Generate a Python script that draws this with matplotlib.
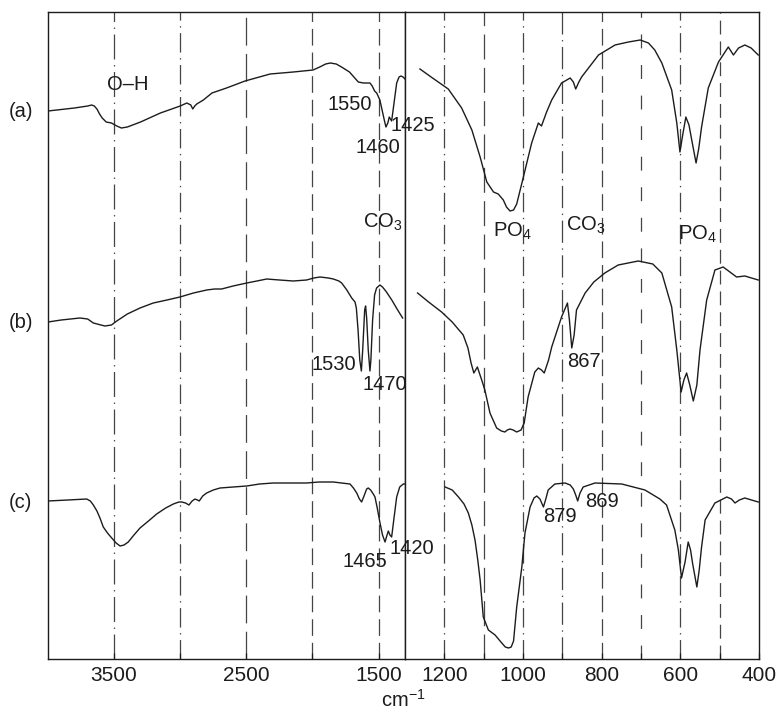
import matplotlib
matplotlib.use("Agg")
import matplotlib.pyplot as plt
from matplotlib.ticker import FixedLocator, NullFormatter

plt.rcParams['font.family'] = ['Liberation Sans', 'DejaVu Sans']
plt.rcParams['mathtext.default'] = 'regular'
plt.rcParams['lines.scale_dashes'] = False

# ---------------- data (wavenumber, cm-1 ; absorbance-like a.u. with offset, axis inverted) -------------
# spectrum (a)
a_left_wn = [4000, 3800, 3700, 3670, 3650, 3630, 3610, 3590, 3560, 3520, 3480, 3445, 3400, 3300, 3150,
             3000, 2950, 2920, 2905, 2890, 2875, 2825, 2760, 2650, 2510, 2320, 2145, 1995, 1945, 1900,
             1865, 1820, 1780, 1720, 1680, 1653, 1615, 1565, 1548, 1530, 1514, 1490, 1470, 1455, 1444,
             1430, 1419, 1410, 1401, 1385, 1363, 1345, 1330, 1315, 1300]
a_left_y = [111, 108, 106, 105, 106, 109, 114, 118, 122, 123, 126, 128, 127, 122, 113,
            106, 103, 105, 109, 106, 104, 100, 93, 88, 81, 74, 72, 70, 67, 64,
            63, 64, 67, 72, 78, 82, 83, 83, 86, 91, 93, 100, 112, 121, 127,
            123, 117, 119, 121, 105, 83, 77, 76, 77, 79]
a_right_wn = [1262, 1230, 1190, 1156, 1130, 1109, 1092, 1075, 1063, 1050, 1042, 1033, 1024, 1016, 999,
              978, 961, 953, 940, 927, 902, 880, 872, 866, 858, 851, 808, 766, 732, 702,
              681, 665, 647, 622, 609, 601, 594, 586, 578, 571, 560, 553, 546, 529, 503,
              478, 465, 452, 436, 420, 402]
a_right_y = [69, 78, 89, 108, 130, 157, 182, 192, 194, 200, 207, 211, 210, 204, 177,
             143, 123, 126, 112, 100, 83, 78, 82, 89, 82, 77, 55, 45, 42, 40,
             43, 50, 63, 90, 123, 152, 135, 117, 125, 140, 163, 148, 127, 88, 62,
             47, 55, 48, 45, 48, 55]

# spectrum (b)
b_left_wn = [4000, 3900, 3758, 3700, 3657, 3600, 3569, 3520, 3480, 3400, 3304, 3204, 3100, 3002, 2900,
             2800, 2740, 2687, 2600, 2497, 2420, 2346, 2250, 2145, 2044, 1990, 1943, 1880, 1842, 1800,
             1779, 1740, 1703, 1678, 1668, 1655, 1642, 1630, 1620, 1605, 1598, 1590, 1578, 1565, 1558,
             1545, 1530, 1515, 1490, 1470, 1440, 1400, 1360, 1318]
b_left_y = [322, 320, 318, 319, 323, 325, 326, 325, 321, 314, 308, 303, 300, 297, 293,
            290, 289, 289, 286, 283, 281, 279, 280, 281, 280, 278, 277, 278, 279, 281,
            283, 290, 298, 302, 308, 330, 360, 371, 350, 310, 306, 318, 350, 371, 360,
            320, 295, 288, 285, 287, 292, 300, 309, 318]
b_right_wn = [1268, 1240, 1207, 1180, 1152, 1140, 1132, 1125, 1116, 1105, 1097, 1084, 1067, 1055, 1046,
              1040, 1033, 1025, 1016, 1005, 997, 987, 970, 961, 953, 946, 935, 927, 902, 887,
              882, 876, 870, 864, 842, 820, 792, 758, 707, 670, 647, 622, 609, 598, 591,
              584, 576, 567, 558, 550, 533, 512, 491, 474, 457, 436, 402]
b_right_y = [293, 302, 312, 322, 335, 348, 363, 373, 367, 380, 390, 413, 428, 431, 432,
             430, 429, 430, 432, 430, 423, 397, 372, 368, 370, 373, 360, 347, 317, 303,
             320, 348, 335, 310, 293, 282, 273, 265, 261, 264, 273, 307, 350, 392, 380,
             373, 385, 401, 385, 350, 300, 270, 267, 272, 277, 276, 280]

# spectrum (c)
c_left_wn = [4000, 3850, 3707, 3680, 3657, 3630, 3607, 3582, 3550, 3518, 3485, 3455, 3425, 3393, 3350,
             3304, 3240, 3178, 3110, 3052, 3010, 2989, 2960, 2934, 2910, 2888, 2870, 2856, 2830, 2800,
             2750, 2699, 2600, 2497, 2400, 2296, 2200, 2044, 1950, 1842, 1780, 1716, 1690, 1665, 1645,
             1628, 1610, 1590, 1578, 1560, 1540, 1527, 1510, 1489, 1470, 1451, 1438, 1426, 1414, 1401,
             1385, 1363, 1340, 1313, 1300]
c_left_y = [501, 500, 499, 501, 505, 511, 518, 527, 533, 538, 543, 546, 545, 542, 535,
            528, 521, 514, 508, 504, 502, 502, 503, 505, 501, 499, 500, 501, 496, 493,
            490, 488, 487, 486, 484, 483, 483, 483, 482, 482, 483, 484, 488, 493, 499,
            502, 496, 489, 488, 490, 494, 497, 508, 523, 535, 542, 536, 531, 535, 537,
            520, 497, 487, 484, 484]
c_right_wn = [1198, 1180, 1164, 1150, 1139, 1130, 1122, 1115, 1109, 1101, 1088, 1071, 1054, 1045, 1037,
              1030, 1024, 1016, 1003, 995, 982, 972, 965, 957, 948, 942, 936, 919, 893, 880,
              872, 866, 861, 855, 847, 817, 749, 690, 652, 635, 614, 605, 597, 588, 580,
              574, 569, 558, 552, 546, 537, 512, 482, 470, 461, 450, 436, 402]
c_right_y = [487, 490, 497, 504, 513, 525, 540, 560, 580, 617, 630, 635, 643, 647, 648,
             647, 641, 607, 567, 533, 507, 498, 496, 499, 507, 499, 490, 484, 483, 485,
             489, 495, 501, 493, 487, 483, 484, 490, 499, 505, 530, 550, 578, 562, 542,
             550, 563, 587, 570, 547, 520, 503, 497, 499, 503, 500, 498, 502]

left_ref_lines = [3500, 3000, 2500, 2000, 1500]
right_ref_lines = [1200, 1100, 1000, 900, 800, 700, 600, 500]
left_tick_labels = [3500, 2500, 1500]
right_tick_labels = [1200, 1000, 800, 600, 400]
sample_labels = ['(a)', '(b)', '(c)']

# ---------------- figure ----------------
W, H = 776, 713
fig = plt.figure(figsize=(W / 100, H / 100), dpi=100)
x0, xb, x1 = 48, 405, 759
ytop, ybot = 12, 659
axL = fig.add_axes([x0 / W, 1 - ybot / H, (xb - x0) / W, (ybot - ytop) / H])
axR = fig.add_axes([xb / W, 1 - ybot / H, (x1 - xb) / W, (ybot - ytop) / H])

ink = '#1c1c1c'
gray = '#444444'
left_styles = [(0, (18, 4, 1, 4)), (0, (14, 4, 1, 4)), (0, (20, 6)), (0, (12, 5)), (0, (12, 5))]
right_styles = [(0, (14, 4, 1, 4)), (0, (18, 6)), (0, (14, 4, 1, 4)), (0, (16, 4, 1, 4)),
                (0, (12, 5)), (0, (10, 12)), (0, (14, 4, 1, 4)), (0, (10, 5))]

for wn, ls in zip(left_ref_lines, left_styles):
    axL.axvline(wn, color=gray, lw=0.9, ls=ls, zorder=1)
for wn, ls in zip(right_ref_lines, right_styles):
    axR.axvline(wn, color=gray, lw=0.9, ls=ls, zorder=1)

for xs, ys in [(a_left_wn, a_left_y), (b_left_wn, b_left_y), (c_left_wn, c_left_y)]:
    axL.plot(xs, ys, color=ink, lw=1.0, zorder=3, solid_joinstyle='round')
for xs, ys in [(a_right_wn, a_right_y), (b_right_wn, b_right_y), (c_right_wn, c_right_y)]:
    axR.plot(xs, ys, color=ink, lw=1.0, zorder=3, solid_joinstyle='round')

axL.set_xlim(4000, 1300)
axR.set_xlim(1300, 400)
for ax in (axL, axR):
    ax.set_ylim(ybot, ytop)
    ax.set_yticks([])
    for s in ax.spines.values():
        s.set_linewidth(1.0)
        s.set_color(ink)
    ax.tick_params(axis='x', direction='in', length=4, width=0.9, color=ink,
                   labelsize=15, pad=5, labelcolor=ink)
    ax.tick_params(axis='x', which='minor', direction='in', length=4, width=0.9, color=ink)

axL.xaxis.set_major_locator(FixedLocator(left_tick_labels))
axL.xaxis.set_minor_locator(FixedLocator([3000, 2000]))
axL.xaxis.set_minor_formatter(NullFormatter())
axR.xaxis.set_major_locator(FixedLocator(right_tick_labels))
axR.xaxis.set_minor_locator(FixedLocator([1100, 900, 700, 500]))
axR.xaxis.set_minor_formatter(NullFormatter())

fs = 14.5
def lab(ax, x, y, s):
    ax.text(x, y, s, ha='center', va='center', fontsize=fs, color=ink, zorder=5, clip_on=False)

lab(axL, 3399, 84.5, 'O\u2013H')
lab(axL, 1716, 104.5, '1550')
lab(axL, 1504, 147.5, '1460')
lab(axL, 1466, 222, 'CO$_3$')
lab(axL, 1841, 365, '1530')
lab(axL, 1451, 385, '1470')
lab(axL, 1603, 561.5, '1465')
lab(axR, 1281, 125.5, '1425')
lab(axR, 1027, 231, 'PO$_4$')
lab(axR, 840, 225, 'CO$_3$')
lab(axR, 556, 234, 'PO$_4$')
lab(axR, 844, 361.5, '867')
lab(axR, 1282, 548.5, '1420')
lab(axR, 905, 516.5, '879')
lab(axR, 800, 501.5, '869')

for s, py in zip(sample_labels, [111.5, 322, 502]):
    fig.text(20.5 / W, 1 - py / H, s, ha='center', va='center', fontsize=fs, color=ink)

fig.text(((x0 + x1) / 2) / W, 1 - 700 / H, 'cm$^{-1}$', ha='center', va='center', fontsize=fs, color=ink)

fig.savefig('out.png', dpi=100)
